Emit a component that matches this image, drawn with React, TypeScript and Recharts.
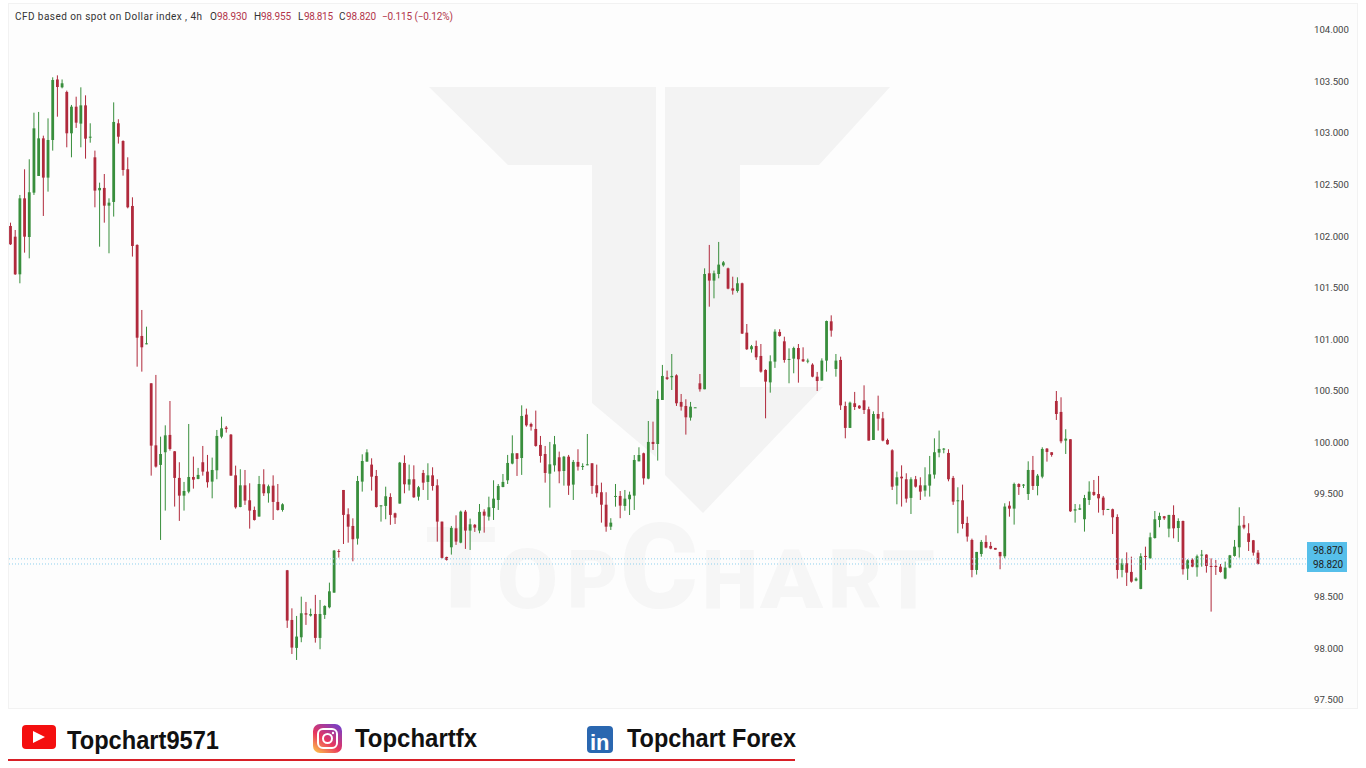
import React from 'react';
import { ComposedChart, Bar, XAxis, YAxis, ReferenceLine } from 'recharts';

const highs = [
  102.131,102.06,102.4,102.649,102.746,103.198,103.205,102.975,103.143,103.541,
  103.56,103.52,103.412,103.273,103.353,103.444,103.366,103.095,102.83,102.519,
  102.603,102.367,103.298,103.134,102.93,102.765,102.377,101.921,101.284,101.122,
  100.573,100.654,100.055,100.165,100.401,99.916,99.807,99.616,100.178,99.862,
  99.752,99.965,99.878,99.852,100.12,100.249,100.159,100.081,99.774,99.739,
  99.732,99.603,99.377,99.674,99.739,99.59,99.68,99.596,99.409,98.762,
  98.39,98.316,98.503,98.452,98.387,98.52,98.471,98.419,98.639,98.956,
  98.963,99.538,99.36,99.263,99.674,99.884,99.933,99.845,99.732,99.389,
  99.57,99.506,99.318,99.81,99.874,99.784,99.777,99.577,99.732,99.797,
  99.758,99.642,99.231,98.891,99.189,99.292,99.338,99.344,99.26,99.208,
  99.402,99.351,99.473,99.632,99.596,99.693,99.878,100.068,99.894,100.359,
  100.327,100.191,100.308,100.062,99.965,100.004,100.062,99.91,99.868,99.878,
  99.829,99.933,99.797,100.081,99.797,99.784,99.609,99.516,99.264,99.596,
  99.528,99.538,99.522,99.877,99.952,99.9,100.207,100.201,100.502,100.751,
  100.696,100.857,100.66,100.469,100.418,100.392,100.34,100.663,101.688,101.915,
  101.666,101.944,101.759,101.695,101.607,101.601,101.549,101.148,100.945,100.987,
  100.954,100.709,100.844,101.097,101.097,101.025,100.912,100.928,100.954,100.922,
  100.812,100.767,100.683,100.815,101.181,101.232,100.857,100.831,100.395,100.395,
  100.489,100.36,100.553,100.346,100.301,100.453,100.295,100.036,99.933,99.716,
  99.777,99.7,99.661,99.674,99.661,99.758,99.868,100.039,100.114,99.945,
  99.933,99.674,99.564,99.59,99.279,99.066,98.937,99.053,99.098,99.034,
  98.976,98.937,99.409,99.428,99.609,99.603,99.596,99.816,99.868,99.693,
  99.952,99.945,99.904,100.498,100.437,100.127,100.03,99.402,99.399,99.49,
  99.622,99.635,99.674,99.48,99.354,99.357,99.302,98.872,98.933,98.891,
  98.691,98.924,98.988,99.124,99.334,99.318,99.286,99.296,99.389,99.263,
  99.241,98.866,98.875,98.911,98.956,98.914,98.875,98.859,98.82,98.843,
  98.908,99.053,99.37,99.286,99.215,99.053,98.955,
];

const lows = [
  101.915,101.624,101.543,101.84,101.785,102.4,102.584,102.196,102.432,102.83,
  103.159,103.434,102.862,102.765,103.05,102.862,102.752,102.907,102.28,101.898,
  102.131,101.834,102.19,102.898,102.587,102.27,101.802,100.734,100.686,100.951,
  99.677,99.755,99.053,99.338,99.92,99.377,99.238,99.338,99.506,99.551,
  99.642,99.677,99.561,99.457,99.642,100.039,100.094,99.677,99.357,99.37,
  99.393,99.163,99.241,99.28,99.48,99.415,99.247,99.338,99.328,98.2,
  97.947,97.889,98.061,98.229,98.31,98.057,97.993,98.287,98.39,98.542,
  98.882,99.014,99.027,98.846,99.008,99.522,99.813,99.532,99.367,99.231,
  99.254,99.2,99.208,99.406,99.506,99.532,99.461,99.435,99.538,99.441,
  99.532,99.037,98.872,98.853,98.911,99.005,99.021,98.966,98.956,99.131,
  99.118,99.124,99.241,99.247,99.344,99.564,99.596,99.787,99.674,99.684,
  100.152,100.114,99.958,99.803,99.609,99.367,99.716,99.603,99.58,99.49,
  99.441,99.726,99.732,99.778,99.5,99.467,99.221,99.133,99.15,99.376,
  99.264,99.337,99.295,99.344,99.816,99.59,99.642,99.926,99.823,100.411,
  100.605,100.508,100.353,100.308,100.075,100.211,100.337,100.492,100.515,101.316,
  101.397,101.591,101.704,101.485,101.433,101.452,101.051,100.896,100.87,100.799,
  100.676,100.233,100.482,100.722,101.025,100.773,100.573,100.67,100.579,100.78,
  100.767,100.631,100.498,100.599,100.686,101.025,100.637,100.314,100.039,100.14,
  100.314,100.324,100.275,100.017,100.023,100.114,100.01,99.978,99.538,99.399,
  99.377,99.415,99.305,99.561,99.441,99.474,99.474,99.648,99.855,99.894,
  99.622,99.393,99.118,99.163,99.037,98.691,98.717,98.891,98.972,98.963,
  98.959,98.769,98.875,99.279,99.202,99.49,99.557,99.441,99.538,99.486,
  99.651,99.813,99.861,100.217,99.991,99.887,99.325,99.221,99.344,99.134,
  99.393,99.48,99.318,99.292,99.347,99.111,98.678,98.691,98.607,98.639,
  98.652,98.575,98.762,98.872,99.066,99.176,99.247,99.079,99.069,99.034,
  98.717,98.665,98.788,98.697,98.794,98.736,98.358,98.714,98.736,98.672,
  98.778,98.891,98.882,99.157,98.946,98.901,98.815,
];

const opens = [
  102.099,101.995,101.63,102.367,101.992,102.422,102.584,102.949,102.568,102.933,
  103.52,103.444,103.399,102.998,103.256,103.092,103.269,102.956,102.765,102.445,
  102.468,102.296,102.332,103.095,102.923,102.649,102.293,101.915,101.032,100.951,
  100.573,99.971,99.781,99.904,100.072,99.913,99.655,99.483,99.522,99.664,
  99.645,99.807,99.716,99.619,99.729,100.055,100.143,100.075,99.68,99.373,
  99.583,99.438,99.344,99.28,99.593,99.506,99.58,99.422,99.344,98.759,
  98.277,98.006,98.109,98.342,98.319,98.335,98.103,98.326,98.4,98.542,
  98.946,99.538,99.302,99.189,99.066,99.619,99.813,99.784,99.674,99.38,
  99.383,99.47,99.312,99.406,99.8,99.59,99.642,99.473,99.703,99.616,
  99.68,99.583,99.231,98.888,98.982,99.166,99.027,99.328,99.144,99.2,
  99.144,99.328,99.279,99.363,99.441,99.567,99.632,99.794,99.894,99.848,
  100.269,100.178,100.13,99.975,99.887,99.696,99.777,99.855,99.722,99.861,
  99.59,99.81,99.765,99.778,99.797,99.584,99.516,99.395,99.182,99.473,
  99.48,99.383,99.448,99.483,99.816,99.894,99.648,100.004,99.984,100.411,
  100.631,100.631,100.65,100.392,100.353,100.24,100.337,100.573,100.515,101.64,
  101.569,101.633,101.717,101.688,101.494,101.468,101.543,101.064,100.903,100.935,
  100.838,100.702,100.582,100.783,101.071,100.98,100.802,100.812,100.915,100.806,
  100.786,100.754,100.637,100.599,100.793,101.174,100.712,100.799,100.353,100.14,
  100.379,100.356,100.408,100.321,100.023,100.275,100.233,100.023,99.923,99.58,
  99.667,99.642,99.461,99.642,99.583,99.532,99.58,99.687,99.9,99.933,
  99.897,99.655,99.431,99.438,99.218,99.053,98.762,98.917,99.034,98.995,
  98.976,98.937,98.895,99.386,99.357,99.596,99.583,99.499,99.732,99.577,
  99.667,99.939,99.904,100.401,100.295,100.017,100.03,99.338,99.347,99.254,
  99.441,99.519,99.499,99.464,99.347,99.351,99.276,98.762,98.827,98.743,
  98.659,98.578,98.898,98.875,99.072,99.247,99.283,99.163,99.296,99.169,
  99.237,98.775,98.862,98.788,98.901,98.911,98.801,98.801,98.794,98.678,
  98.785,98.898,98.982,99.2,99.118,99.05,98.93,
];

const closes = [
  101.921,101.63,102.367,101.995,102.426,103.046,102.949,102.568,102.933,103.515,
  103.447,103.483,102.998,103.256,103.101,103.269,102.946,102.965,102.442,102.468,
  102.296,102.325,103.108,102.965,102.642,102.28,101.905,101.015,100.922,100.961,
  99.968,99.765,99.887,100.068,99.936,99.655,99.483,99.528,99.664,99.638,
  99.684,99.716,99.613,99.732,100.062,100.136,100.13,99.677,99.37,99.583,
  99.435,99.338,99.247,99.596,99.506,99.574,99.422,99.344,99.399,98.271,
  98.009,98.116,98.342,98.329,98.335,98.103,98.335,98.413,98.555,98.95,
  98.94,99.296,99.182,99.06,99.625,99.819,99.903,99.667,99.373,99.389,
  99.477,99.296,99.27,99.803,99.593,99.642,99.467,99.564,99.609,99.68,
  99.577,99.231,98.879,98.859,99.17,99.037,99.328,99.144,99.205,99.173,
  99.325,99.289,99.37,99.454,99.577,99.616,99.8,99.894,99.839,100.256,
  100.165,100.152,99.965,99.868,99.703,99.787,99.981,99.719,99.861,99.58,
  99.81,99.764,99.771,99.787,99.577,99.506,99.395,99.182,99.221,99.48,
  99.386,99.454,99.492,99.829,99.877,99.651,100.004,99.984,100.421,100.644,
  100.615,100.644,100.379,100.346,100.243,100.346,100.34,100.515,101.633,101.569,
  101.64,101.724,101.746,101.491,101.472,101.543,101.055,100.903,100.932,100.825,
  100.686,100.589,100.786,101.074,101.032,100.799,100.809,100.915,100.806,100.786,
  100.793,100.637,100.595,100.793,101.177,101.084,100.793,100.359,100.14,100.385,
  100.343,100.33,100.314,100.017,100.275,100.23,100.017,99.981,99.57,99.661,
  99.651,99.454,99.642,99.57,99.522,99.583,99.69,99.904,99.936,99.939,
  99.642,99.425,99.438,99.208,99.086,98.762,98.937,99.034,98.979,98.969,
  98.959,98.895,99.377,99.357,99.596,99.567,99.59,99.732,99.577,99.677,
  99.936,99.907,99.878,100.275,100.01,100.036,99.331,99.351,99.36,99.46,
  99.522,99.49,99.457,99.344,99.354,99.273,98.762,98.827,98.736,98.649,
  98.678,98.895,98.888,99.079,99.254,99.286,99.263,99.296,99.166,99.237,
  98.769,98.856,98.794,98.895,98.911,98.801,98.794,98.791,98.743,98.785,
  98.904,98.988,99.192,99.173,99.034,98.93,98.82,
];

const priceTicks = [97.5, 98, 98.5, 99, 99.5, 100, 100.5, 101, 101.5, 102, 102.5, 103, 103.5, 104];
const lastPrices = [98.87, 98.82];

const UP = '#388e3c';
const DOWN = '#b02a3c';
const FONT = 'Roboto, sans-serif';
const BRAND_FONT = "'Liberation Sans', sans-serif";

const candles = opens.map((open, i) => ({
  index: i,
  open,
  high: highs[i],
  low: lows[i],
  close: closes[i],
}));

// watermark letters, each one stretched to the slot it has in the logo
const watermarkLetters = [
  { ch: 'T', x: 425, w: 72, size: 114 },
  { ch: 'O', x: 497, w: 61, size: 84 },
  { ch: 'P', x: 567, w: 51, size: 82 },
  { ch: 'C', x: 620, w: 78, size: 118 },
  { ch: 'H', x: 702, w: 56, size: 82 },
  { ch: 'A', x: 760, w: 63, size: 82 },
  { ch: 'R', x: 828, w: 54, size: 82 },
  { ch: 'T', x: 882, w: 53, size: 82 },
];

// the bar covers low..high, the body is worked out from the same scale
const CandleShape = (props: any) => {
  const { x, y, width, height, payload } = props;
  const { open, high, low, close } = payload;
  const perUnit = height / (high - low);
  const center = x + width / 2;
  const bodyTop = y + (high - Math.max(open, close)) * perUnit;
  const bodyHeight = Math.max(Math.abs(open - close) * perUnit, 1);
  const color = close >= open ? UP : DOWN;
  return (
    <g>
      <line x1={center} x2={center} y1={y} y2={y + height} stroke={color} strokeWidth={1} />
      <rect x={center - 1.4} y={bodyTop} width={2.8} height={bodyHeight} fill={color} />
    </g>
  );
};

const Watermark = () => (
  <svg width={1366} height={768} style={{ position: 'absolute', left: 0, top: 0 }}>
    <rect x={8.5} y={3.5} width={1349} height={705} fill="#fdfdfd" stroke="#f2f2f2" />
    <polygon points="429,87 656,87 656,457 592,403 592,165 508,165" fill="#f3f3f3" />
    <polygon points="665,87 890,87 819,165 740,165 740,387 823,387 703,513 665,475" fill="#f3f3f3" />
    {watermarkLetters.map((l, i) => (
      <text
        key={i}
        x={l.x}
        y={608}
        fontFamily={FONT}
        fontWeight={900}
        fontSize={l.size}
        fill="#f6f6f6"
        textLength={l.w}
        lengthAdjust="spacingAndGlyphs"
      >
        {l.ch}
      </text>
    ))}
  </svg>
);

const Overlay = () => (
  <svg width={1366} height={768} style={{ position: 'absolute', left: 0, top: 0 }}>
    <defs>
      <linearGradient id="insta" x1="0.1" y1="1" x2="0.8" y2="0">
        <stop offset="0" stopColor="#fdc14a" />
        <stop offset="0.45" stopColor="#e8355f" />
        <stop offset="1" stopColor="#7a3fc4" />
      </linearGradient>
    </defs>

    <g fontFamily={FONT} fontSize={10}>
      <text x={15} y={20} fill="#333" textLength={187}>CFD based on spot on Dollar index , 4h</text>
      <text x={210} y={20} fill="#333">O</text>
      <text x={217} y={20} fill="#b2354a" textLength={30}>98.930</text>
      <text x={254} y={20} fill="#333">H</text>
      <text x={261} y={20} fill="#b2354a" textLength={30}>98.955</text>
      <text x={298} y={20} fill="#333">L</text>
      <text x={304} y={20} fill="#b2354a" textLength={29}>98.815</text>
      <text x={339} y={20} fill="#333">C</text>
      <text x={346} y={20} fill="#b2354a" textLength={30}>98.820</text>
      <text x={382} y={20} fill="#b2354a" textLength={71}>−0.115 (−0.12%)</text>
    </g>

    <rect x={1307} y={542} width={40} height={30} fill="#56bfea" />
    {lastPrices.map((p, i) => (
      <text key={p} x={1313} y={553.5 + i * 14.5} fontFamily={FONT} fontSize={10} fill="#222" textLength={30}>
        {p.toFixed(3)}
      </text>
    ))}

    <g fontFamily={BRAND_FONT} fontWeight={700} fontSize={26} fill="#111">
      <rect x={22} y={725} width={34} height={24} rx={4} fill="#f40f0f" />
      <polygon points="33,731 33,743 45,737" fill="#fff" />
      <text x={67} y={749} textLength={152} lengthAdjust="spacingAndGlyphs">Topchart9571</text>

      <rect x={313} y={724} width={29} height={29} rx={7} fill="url(#insta)" />
      <rect x={318} y={729} width={19} height={19} rx={5} fill="none" stroke="#fff" strokeWidth={2} />
      <circle cx={327.5} cy={738.5} r={4.5} fill="none" stroke="#fff" strokeWidth={2} />
      <circle cx={333} cy={733} r={1.2} fill="#fff" />
      <text x={355} y={747} textLength={122} lengthAdjust="spacingAndGlyphs">Topchartfx</text>

      <rect x={587} y={726} width={26} height={27} rx={4} fill="#2a67b0" />
      <text x={590} y={750} fontSize={22} fill="#fff">in</text>
      <text x={627} y={747} textLength={169} lengthAdjust="spacingAndGlyphs">Topchart Forex</text>
    </g>

    <line x1={8} x2={795} y1={760} y2={760} stroke="#d81f26" strokeWidth={2} />
  </svg>
);

export default function App() {
  return (
    <div style={{ position: 'absolute', left: 0, top: 0, width: 1366, height: 768, background: '#fff', overflow: 'hidden' }}>
      <Watermark />
      <div style={{ position: 'absolute', left: 0, top: 0 }}>
        <ComposedChart
          width={1366}
          height={768}
          data={candles}
          margin={{ top: 10, right: 0, bottom: 60, left: 8 }}
          barCategoryGap={0}
        >
          <XAxis dataKey="index" hide padding={{ left: 0, right: 45.8 }} />
          <YAxis
            orientation="right"
            width={60}
            domain={[97.423, 104.194]}
            ticks={priceTicks}
            interval={0}
            axisLine={false}
            tickLine={false}
            tickMargin={2}
            tickFormatter={(v: number) => v.toFixed(3)}
            tick={{ fontSize: 9.6, fill: '#444', fontFamily: FONT }}
          />
          {lastPrices.map((p) => (
            <ReferenceLine key={p} y={p} stroke="#8fd0ee" strokeDasharray="1 2" />
          ))}
          <Bar dataKey={(d: any) => [d.low, d.high]} shape={CandleShape} isAnimationActive={false} />
        </ComposedChart>
      </div>
      <Overlay />
    </div>
  );
}
